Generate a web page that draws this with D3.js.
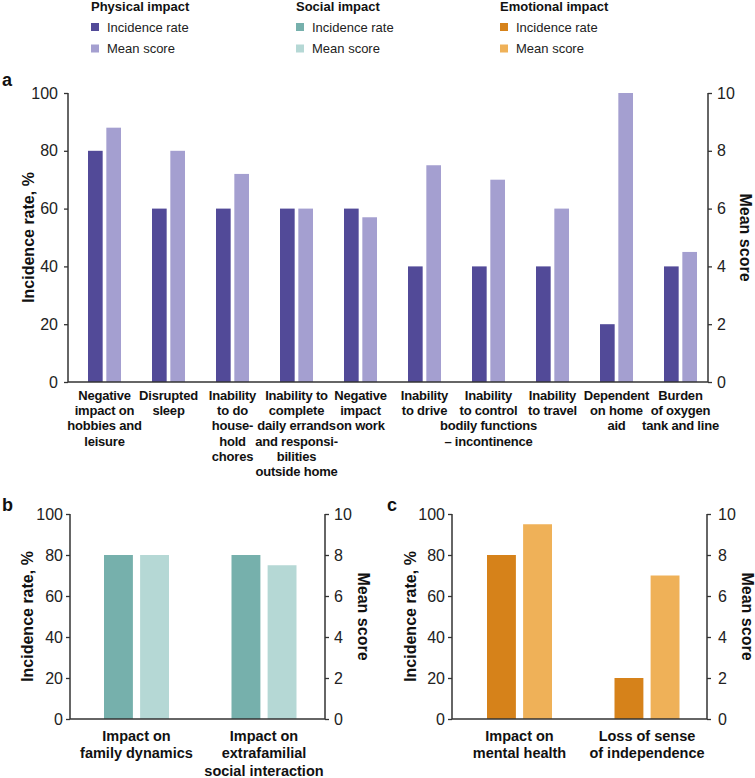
<!DOCTYPE html>
<html>
<head>
<meta charset="utf-8">
<script src="https://cdn.jsdelivr.net/npm/d3@7"></script>
<style>
  body { margin: 0; background: #fff; }
  svg { display: block; font-family: "Liberation Sans", Arial, sans-serif; }
</style>
</head>
<body>
<svg id="chart" width="755" height="778"></svg>
<script>
// ---------- DATA ----------
const physicalCategories = [
  "Negative\nimpact on\nhobbies and\nleisure",
  "Disrupted\nsleep",
  "Inability\nto do\nhouse-\nhold\nchores",
  "Inability to\ncomplete\ndaily errands\nand responsi-\nbilities\noutside home",
  "Negative\nimpact\non work",
  "Inability\nto drive",
  "Inability\nto control\nbodily functions\n– incontinence",
  "Inability\nto travel",
  "Dependent\non home\naid",
  "Burden\nof oxygen\ntank and line"
];
const physicalIncidence = [80, 60, 60, 60, 60, 40, 40, 40, 20, 40];
const physicalMeanScore = [8.8, 8.0, 7.2, 6.0, 5.7, 7.5, 7.0, 6.0, 10.0, 4.5];

const socialCategories = ["Impact on\nfamily dynamics", "Impact on\nextrafamilial\nsocial interaction"];
const socialIncidence = [80, 80];
const socialMeanScore = [8.0, 7.5];

const emotionalCategories = ["Impact on\nmental health", "Loss of sense\nof independence"];
const emotionalIncidence = [80, 20];
const emotionalMeanScore = [9.5, 7.0];

const incidenceTicks = [0, 20, 40, 60, 80, 100];
const meanTicks = [0, 2, 4, 6, 8, 10];

const legendGroups = ["Physical impact", "Social impact", "Emotional impact"];
const legendItems = ["Incidence rate", "Mean score"];

// ---------- STYLE ----------
const colors = {
  physical: ["#524A98", "#A49FD0"],
  social: ["#76B0AC", "#B5D8D5"],
  emotional: ["#D6821A", "#EFB158"]
};
const axisColor = "#333";

const svg = d3.select("#chart");

// ---------- LEGEND ----------
const legendX = [91, 296, 500];
const legendColors = [colors.physical, colors.social, colors.emotional];
legendGroups.forEach((g, i) => {
  const lg = svg.append("g").attr("transform", `translate(${legendX[i]},0)`);
  lg.append("text").attr("x", 0).attr("y", 10.5)
    .attr("font-size", 13).attr("font-weight", "bold").attr("fill", "#111").text(g);
  legendItems.forEach((it, j) => {
    const cy = 27 + j * 21.5;
    lg.append("rect").attr("x", 0).attr("y", cy - 4).attr("width", 8).attr("height", 8)
      .attr("fill", legendColors[i][j]);
    lg.append("text").attr("x", 16).attr("y", cy + 4.5)
      .attr("font-size", 13).attr("fill", "#222").text(it);
  });
});

// ---------- PANEL ----------
function drawPanel(opt) {
  const g = svg.append("g");
  const yL = d3.scaleLinear().domain([0, 100]).range([opt.y0, opt.y1]);
  const yR = d3.scaleLinear().domain([0, 10]).range([opt.y0, opt.y1]);
  const x0 = d3.scaleBand().domain(opt.cats).range([opt.xl, opt.xr]).paddingInner(0).paddingOuter(0);
  const x1 = d3.scaleBand().domain(["inc", "mean"]).range(opt.pair).paddingInner(0.2);

  // bars
  const rows = opt.cats.map((c, i) => ({ c, inc: opt.inc[i], mean: opt.mean[i] }));
  const grp = g.selectAll("g.grp").data(rows).join("g")
    .attr("transform", d => `translate(${x0(d.c)},0)`);
  grp.append("rect")
    .attr("x", x1("inc")).attr("width", x1.bandwidth())
    .attr("y", d => yL(d.inc)).attr("height", d => yL(0) - yL(d.inc))
    .attr("fill", opt.colors[0]);
  grp.append("rect")
    .attr("x", x1("mean")).attr("width", x1.bandwidth())
    .attr("y", d => yR(d.mean)).attr("height", d => yR(0) - yR(d.mean))
    .attr("fill", opt.colors[1]);

  // category labels
  const pairCenter = (opt.pair[0] + opt.pair[1]) / 2;
  grp.append("text")
    .attr("text-anchor", "middle")
    .attr("font-size", opt.catFont).attr("font-weight", "bold").attr("fill", "#111")
    .attr("letter-spacing", opt.catSpacing || 0)
    .each(function (d) {
      const t = d3.select(this);
      d.c.split("\n").forEach((line, k) => {
        t.append("tspan").attr("x", pairCenter).attr("y", opt.catY + k * opt.catLH).text(line);
      });
    });

  // left axis
  const la = g.append("g").attr("transform", `translate(${opt.xl},0)`)
    .call(d3.axisLeft(yL).tickValues(incidenceTicks).tickSize(opt.tick).tickPadding(opt.pad));
  // right axis
  const ra = g.append("g").attr("transform", `translate(${opt.xr},0)`)
    .call(d3.axisRight(yR).tickValues(meanTicks).tickSize(opt.tick).tickPadding(opt.padR));
  [la, ra].forEach(a => {
    a.select(".domain").remove();
    a.selectAll(".tick line").attr("stroke", axisColor).attr("stroke-width", 1.3);
    a.selectAll(".tick text").attr("font-size", 16).attr("fill", "#222")
      .attr("font-family", "Liberation Sans, Arial, sans-serif");
  });
  // axis lines
  g.append("line").attr("x1", opt.xl).attr("x2", opt.xl).attr("y1", opt.y1).attr("y2", opt.y0)
    .attr("stroke", axisColor).attr("stroke-width", 1.5);
  g.append("line").attr("x1", opt.xr).attr("x2", opt.xr).attr("y1", opt.y1).attr("y2", opt.y0)
    .attr("stroke", axisColor).attr("stroke-width", 1.5);
  g.append("line").attr("x1", opt.xl).attr("x2", opt.xr).attr("y1", opt.y0).attr("y2", opt.y0)
    .attr("stroke", axisColor).attr("stroke-width", 1.5);

  // axis titles
  const midY = (opt.y0 + opt.y1) / 2;
  g.append("text").attr("transform", `translate(${opt.titleLX},${midY}) rotate(-90)`)
    .attr("text-anchor", "middle").attr("font-size", 16).attr("font-weight", "bold").attr("fill", "#111")
    .text("Incidence rate, %");
  g.append("text").attr("transform", `translate(${opt.titleRX},${midY}) rotate(90)`)
    .attr("text-anchor", "middle").attr("font-size", 16).attr("font-weight", "bold").attr("fill", "#111")
    .text("Mean score");

  // panel letter
  g.append("text").attr("x", opt.letterX).attr("y", opt.letterY)
    .attr("font-size", 18).attr("font-weight", "bold").attr("fill", "#111").text(opt.letter);
}

drawPanel({
  cats: physicalCategories, inc: physicalIncidence, mean: physicalMeanScore,
  colors: colors.physical,
  xl: 68, xr: 708, y0: 382, y1: 93, pair: [20, 53],
  tick: 4, pad: 6, padR: 5,
  catFont: 13, catY: 400, catLH: 15.2, catSpacing: -0.2,
  titleLX: 34, titleRX: 740, letter: "a", letterX: 2, letterY: 86
});
drawPanel({
  cats: socialCategories, inc: socialIncidence, mean: socialMeanScore,
  colors: colors.social,
  xl: 70, xr: 325, y0: 719, y1: 514, pair: [34, 99],
  tick: 4, pad: 3, padR: 5,
  catFont: 14.5, catY: 741, catLH: 17.3,
  titleLX: 33, titleRX: 358, letter: "b", letterX: 2, letterY: 511
});
drawPanel({
  cats: emotionalCategories, inc: emotionalIncidence, mean: emotionalMeanScore,
  colors: colors.emotional,
  xl: 452, xr: 707, y0: 719, y1: 514, pair: [35, 100],
  tick: 4, pad: 3, padR: 7,
  catFont: 14.5, catY: 741, catLH: 17.3,
  titleLX: 416, titleRX: 742, letter: "c", letterX: 387, letterY: 511
});
</script>
</body>
</html>
